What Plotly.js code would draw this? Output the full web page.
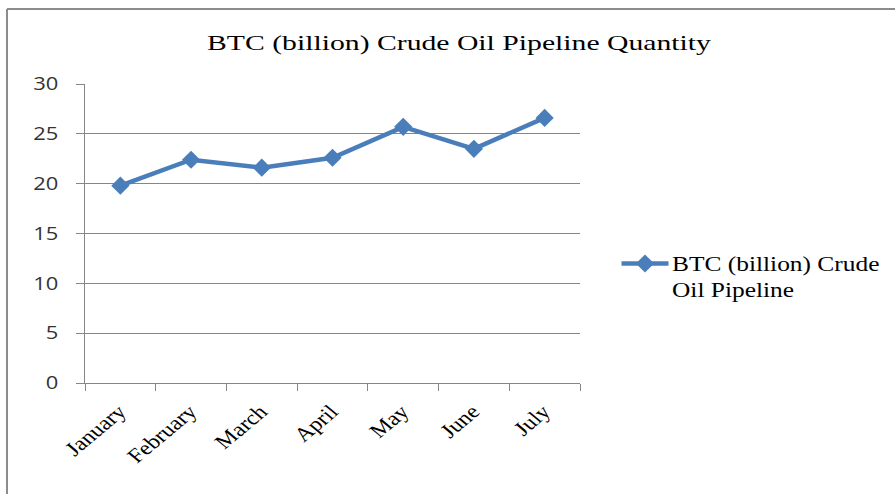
<!DOCTYPE html>
<html>
<head>
<meta charset="utf-8">
<script src="https://cdn.plot.ly/plotly-3.0.1.min.js"></script>
<style>html,body{margin:0;padding:0;background:#fff;}#chart{width:895px;height:494px;}</style>
</head>
<body>
<div id="chart"></div>
<script>
var months = ["January", "February", "March", "April", "May", "June", "July"];
var btcPipeline = [19.8, 22.4, 21.6, 22.6, 25.7, 23.5, 26.6];
var seriesName = "BTC (billion) Crude<br>Oil Pipeline";
var chartTitle = "BTC (billion) Crude Oil Pipeline Quantity";
var yTicks = [0, 5, 10, 15, 20, 25, 30];

var L = 85, R = 580, T = 84, B = 383, W = 895, H = 494;
function px2x(p) { return (p - L) / (R - L); }
function py2y(p) { return (B - p) / (B - T); }

var trace = {
  x: months,
  y: btcPipeline,
  type: "scatter",
  mode: "lines+markers",
  name: seriesName,
  line: {color: "#4a7ebb", width: 4.5},
  marker: {symbol: "diamond", size: 14, color: "#4a7ebb"}
};

var layout = {
  width: W, height: H,
  margin: {l: L, r: W - R, t: T, b: H - B, pad: 0},
  paper_bgcolor: "#fff", plot_bgcolor: "#fff",
  title: {
    text: chartTitle,
    font: {family: "Liberation Serif, serif", size: 22, color: "#000"},
    x: 459 / W, xanchor: "center", xref: "container",
    y: 1 - 42 / H, yanchor: "middle", yref: "container"
  },
  xaxis: {
    type: "category",
    tickson: "boundaries",
    ticks: "outside", ticklen: 7, tickcolor: "#868686", tickwidth: 1,
    showline: true, linecolor: "#868686", linewidth: 1,
    showgrid: false,
    tickangle: -45,
    ticklabelstandoff: 8,
    tickfont: {family: "Liberation Serif, serif", size: 20, color: "#000"},
    range: [-0.5, 6.5],
    fixedrange: true
  },
  yaxis: {
    range: [0, 30],
    tickvals: yTicks,
    ticks: "outside", ticklen: 8, tickcolor: "#868686", tickwidth: 1,
    showline: true, linecolor: "#868686", linewidth: 1,
    showgrid: true, gridcolor: "#868686", gridwidth: 1,
    zeroline: false,
    ticklabelstandoff: 14,
    tickfont: {family: "Open Sans, sans-serif", size: 18, color: "#333"},
    fixedrange: true
  },
  showlegend: true,
  legend: {
    x: px2x(618), xanchor: "left",
    y: py2y(244), yanchor: "top",
    valign: "top",
    itemwidth: 44,
    font: {family: "Liberation Serif, serif", size: 20, color: "#000"},
    bgcolor: "rgba(0,0,0,0)"
  },
  shapes: [
    {type: "line", xref: "paper", yref: "paper",
     x0: px2x(7), x1: px2x(7), y0: py2y(500), y1: py2y(9),
     line: {color: "#8c8c8c", width: 2}},
    {type: "line", xref: "paper", yref: "paper",
     x0: px2x(7), x1: px2x(900), y0: py2y(9), y1: py2y(9),
     line: {color: "#8c8c8c", width: 2}}
  ]
};

// the reference renders its text horizontally widened; stretch text about its anchor
function stretchText(el, s) {
  var x = parseFloat(el.getAttribute("x")) || 0;
  var y = parseFloat(el.getAttribute("y")) || 0;
  var tl = el.transform.baseVal.consolidate();
  var m = tl ? tl.matrix : {a: 1, b: 0, c: 0, d: 1, e: 0, f: 0};
  var px = m.a * x + m.c * y + m.e;
  var py = m.b * x + m.d * y + m.f;
  el.setAttribute("transform",
    "translate(" + px + "," + py + ") scale(" + s + ",1) translate(" + (-px) + "," + (-py) + ") " +
    "matrix(" + [m.a, m.b, m.c, m.d, m.e, m.f].join(",") + ")");
}

Plotly.newPlot("chart", [trace], layout, {displayModeBar: false, staticPlot: true}).then(function (gd) {
  gd.querySelectorAll(".gtitle").forEach(function (t) { stretchText(t, 1.35); });
  gd.querySelectorAll(".xtick text").forEach(function (t) { stretchText(t, 1.2); });
  gd.querySelectorAll(".ytick text").forEach(function (t) { stretchText(t, 1.22); });
  gd.querySelectorAll(".legendtext").forEach(function (t) { stretchText(t, 1.27); });
  gd.querySelectorAll(".legend [clip-path]").forEach(function (e) { e.removeAttribute("clip-path"); });
  gd.querySelectorAll(".legendlines path").forEach(function (p) {
    var bb = p.getBBox();
    if (bb.width > 0) {
      var cx = bb.x + bb.width / 2;
      var s = 47 / bb.width;
      p.setAttribute("transform", "translate(" + cx + ",0) scale(" + s + ",1) translate(" + (-cx) + ",0)");
    }
  });
});
</script>
</body>
</html>
